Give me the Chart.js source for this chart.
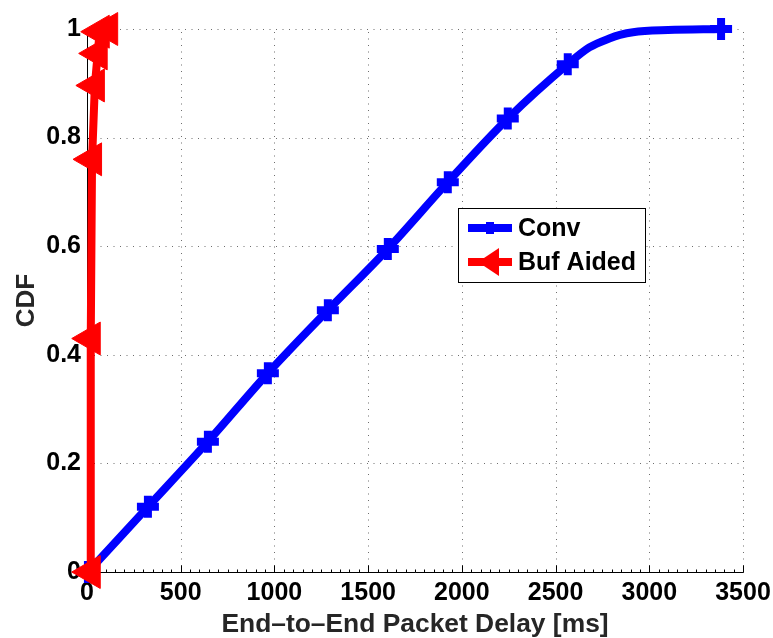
<!DOCTYPE html>
<html>
<head>
<meta charset="utf-8">
<title>CDF of End-to-End Packet Delay</title>
<script src="https://cdn.jsdelivr.net/npm/chart.js@4.4.1/dist/chart.umd.min.js"></script>
<style>
  html, body { margin: 0; padding: 0; background: #fff; }
  #wrap { width: 773px; height: 638px; }
</style>
</head>
<body>
<div id="wrap"><canvas id="cdf" width="773" height="638"></canvas></div>
<script>
// Conventional scheme: delay samples (ms) and cumulative probability
const convDelay = [5, 325, 645, 965, 1285, 1605, 1925, 2245, 2565, 2680, 2790, 2843, 2913, 3100, 3383];
const convCdf   = [0, 0.12, 0.24, 0.366, 0.482, 0.595, 0.718, 0.835, 0.935, 0.966, 0.983, 0.989, 0.994, 0.998, 1.0];

// Buffer-aided scheme: delay samples (ms) and cumulative probability
const bufDelay = [20, 20, 27, 42, 57, 68, 113];
const bufCdf   = [0, 0.43, 0.76, 0.896, 0.955, 0.995, 1.0];

// Axis ticks
const xTicks = [0, 500, 1000, 1500, 2000, 2500, 3000, 3500];
const yTicks = [0, 0.2, 0.4, 0.6, 0.8, 1];
const xMinorStep = 50;

const seriesNames = ['Conv', 'Buf Aided'];
const BLUE = '#0000ff';
const RED = '#ff0000';
const FONT = '"Liberation Sans", Arial, Helvetica, sans-serif';

// Conv curve carries a "+" marker on its evenly spaced samples and at its end
const convMarked = new Set([0, 1, 2, 3, 4, 5, 6, 7, 8, convDelay.length - 1]);

// Dotted grid, axis lines and inward-pointing tick marks
const axisTicks = {
  id: 'axisTicks',
  beforeDatasetsDraw(chart) {
    const { ctx, chartArea: ca, scales: { x, y } } = chart;
    const l = Math.round(ca.left) + 0.5, b = Math.round(ca.bottom) + 0.5;
    const t = Math.round(ca.top) + 0.5, r = Math.round(ca.right) + 0.5;
    ctx.save();

    ctx.strokeStyle = '#6e6e6e';
    ctx.lineWidth = 1;
    ctx.setLineDash([1, 5.5]);
    ctx.beginPath();
    xTicks.filter(v => v !== 0).forEach(v => {
      const px = Math.round(x.getPixelForValue(v)) + 0.5;
      ctx.moveTo(px, b);
      ctx.lineTo(px, t);
    });
    yTicks.filter(v => v !== 0).forEach(v => {
      const py = Math.round(y.getPixelForValue(v)) + 0.5;
      ctx.moveTo(l, py);
      ctx.lineTo(r, py);
    });
    ctx.stroke();

    ctx.setLineDash([]);
    ctx.strokeStyle = '#000';
    ctx.beginPath();
    ctx.moveTo(l, t - 0.5);
    ctx.lineTo(l, b);
    ctx.lineTo(r, b);
    for (let v = xTicks[0]; v <= xTicks[xTicks.length - 1]; v += xMinorStep) {
      const px = Math.round(x.getPixelForValue(v)) + 0.5;
      const len = xTicks.includes(v) ? 7 : 3;
      ctx.moveTo(px, b);
      ctx.lineTo(px, b - len);
    }
    yTicks.forEach(v => {
      const py = Math.round(y.getPixelForValue(v)) + 0.5;
      ctx.moveTo(l, py);
      ctx.lineTo(l + 7, py);
    });
    ctx.stroke();
    ctx.restore();
  }
};

// Boxed legend inside the plot area
const boxLegend = {
  id: 'boxLegend',
  afterDraw(chart) {
    const { ctx, chartArea: ca } = chart;
    const w = 187, h = 74;
    const bx = ca.right - 98 - w, by = ca.top + 179;
    ctx.save();
    ctx.fillStyle = '#fff';
    ctx.fillRect(bx, by, w, h);
    ctx.strokeStyle = '#000';
    ctx.lineWidth = 1;
    ctx.strokeRect(Math.round(bx) + 0.5, Math.round(by) + 0.5, w, h);

    const rows = [by + 20, by + 54];
    const x0 = bx + 10, x1 = bx + 54, xm = (x0 + x1) / 2;
    // Conv sample
    ctx.fillStyle = BLUE;
    ctx.fillRect(x0, rows[0] - 4, x1 - x0, 8);
    ctx.fillRect(xm - 4, rows[0] - 6, 8, 12);
    // Buf Aided sample
    ctx.fillStyle = RED;
    ctx.fillRect(x0, rows[1] - 4, x1 - x0, 8);
    ctx.beginPath();
    ctx.moveTo(xm - 12, rows[1]);
    ctx.lineTo(xm + 9, rows[1] - 14);
    ctx.lineTo(xm + 9, rows[1] + 14);
    ctx.closePath();
    ctx.fill();

    ctx.fillStyle = '#000';
    ctx.font = 'bold 25px ' + FONT;
    ctx.textBaseline = 'middle';
    ctx.textAlign = 'left';
    ctx.fillText(seriesNames[0], bx + 60, rows[0] + 1);
    ctx.fillText(seriesNames[1], bx + 60, rows[1] + 1);
    ctx.restore();
  }
};

new Chart(document.getElementById('cdf'), {
  type: 'line',
  data: {
    datasets: [
      {
        label: seriesNames[0],
        data: convDelay.map((d, i) => ({ x: d, y: convCdf[i] })),
        borderColor: BLUE,
        backgroundColor: BLUE,
        borderWidth: 8,
        cubicInterpolationMode: 'monotone',
        pointStyle: 'cross',
        pointRadius: c => convMarked.has(c.dataIndex) ? 11 : 0,
        pointBorderWidth: 8,
        pointBorderColor: BLUE,
        clip: false,
        order: 2
      },
      {
        label: seriesNames[1],
        data: bufDelay.map((d, i) => ({ x: d, y: bufCdf[i] })),
        borderColor: RED,
        backgroundColor: RED,
        borderWidth: 8,
        pointStyle: 'triangle',
        rotation: -90,
        pointRadius: 19,
        pointBorderWidth: 1,
        pointBorderColor: RED,
        pointBackgroundColor: RED,
        clip: false,
        order: 1
      }
    ]
  },
  options: {
    responsive: false,
    animation: false,
    layout: { padding: { left: 0, right: 30, top: 29, bottom: 0 } },
    plugins: { legend: { display: false }, tooltip: { enabled: false } },
    scales: {
      x: {
        type: 'linear',
        min: xTicks[0],
        max: xTicks[xTicks.length - 1],
        afterFit: s => { s.height = 66; s.paddingLeft = 0; s.paddingRight = 0; },
        afterBuildTicks: s => { s.ticks = xTicks.map(v => ({ value: v })); },
        ticks: {
          color: '#000',
          font: { family: FONT, size: 25, weight: 'bold' },
          padding: 6,
          maxRotation: 0,
          autoSkip: false,
          callback: v => String(v)
        },
        grid: { display: false, drawTicks: false },
        border: { display: false },
        title: {
          display: true,
          text: 'End\u2013to\u2013End Packet Delay [ms]',
          color: '#262626',
          font: { family: FONT, size: 26.4, weight: 'bold' },
          padding: { top: 0, bottom: -3 }
        }
      },
      y: {
        type: 'linear',
        min: yTicks[0],
        max: yTicks[yTicks.length - 1],
        afterFit: s => { s.width = 87; s.paddingTop = 0; s.paddingBottom = 0; },
        afterBuildTicks: s => { s.ticks = yTicks.map(v => ({ value: v })); },
        ticks: {
          color: '#000',
          font: { family: FONT, size: 25, weight: 'bold' },
          padding: 6,
          callback: v => String(v)
        },
        grid: { display: false, drawTicks: false },
        border: { display: false },
        title: {
          display: true,
          text: 'CDF',
          color: '#262626',
          font: { family: FONT, size: 26, weight: 'bold' },
          padding: { top: 11, bottom: 0 }
        }
      }
    }
  },
  plugins: [axisTicks, boxLegend]
});
</script>
</body>
</html>
